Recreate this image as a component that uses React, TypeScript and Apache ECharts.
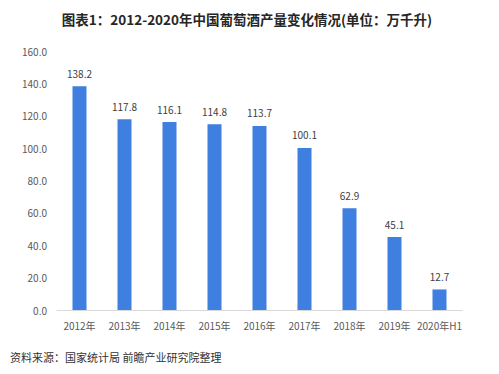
import React, { useEffect, useRef } from "react";
import * as echarts from "echarts";

const categories = ["2012年", "2013年", "2014年", "2015年", "2016年", "2017年", "2018年", "2019年", "2020年H1"];
const production = [138.2, 117.8, 116.1, 114.8, 113.7, 100.1, 62.9, 45.1, 12.7];
const titleText = "图表1：2012-2020年中国葡萄酒产量变化情况(单位：万千升)";
const sourceText = "资料来源：国家统计局 前瞻产业研究院整理";

export default function App() {
  const ref = useRef<HTMLDivElement>(null);
  useEffect(() => {
    if (!ref.current) return;
    const chart = echarts.init(ref.current, null, { renderer: "svg" });
    const font = '"Microsoft YaHei", "Noto Sans CJK SC", sans-serif';
    chart.setOption({
      animation: false,
      backgroundColor: "#ffffff",
      title: {
        text: titleText,
        left: 242,
        textAlign: "center",
        top: 7,
        textStyle: { fontSize: 13.5, fontWeight: "bold", color: "#262626", fontFamily: font },
      },
      graphic: [
        {
          type: "text",
          left: 10,
          top: 351,
          style: { text: sourceText, fontSize: 11, fill: "#333333", fontFamily: font },
        },
      ],
      grid: { left: 57, right: 37, top: 51, bottom: 64, containLabel: false },
      xAxis: {
        type: "category",
        data: categories,
        axisLine: { lineStyle: { color: "#d9d9d9" } },
        axisTick: { show: false },
        axisLabel: { color: "#595959", fontSize: 10, margin: 10, fontFamily: font, interval: 0 },
      },
      yAxis: {
        type: "value",
        min: 0,
        max: 160,
        interval: 20,
        splitLine: { show: false },
        axisLine: { show: false },
        axisTick: { show: false },
        axisLabel: {
          color: "#595959",
          fontSize: 10,
          margin: 10,
          fontFamily: font,
          formatter: (v: number) => v.toFixed(1),
        },
      },
      series: [
        {
          type: "bar",
          data: production,
          barWidth: 14,
          itemStyle: { color: "#3f7fdf" },
          label: {
            show: true,
            position: "top",
            distance: 8,
            color: "#404040",
            fontSize: 10,
            fontFamily: font,
            formatter: (p: any) => p.value.toFixed(1),
          },
        },
      ],
    });
    return () => chart.dispose();
  }, []);
  return <div ref={ref} style={{ position: "fixed", left: 0, top: 0, width: 499, height: 374 }} />;
}
